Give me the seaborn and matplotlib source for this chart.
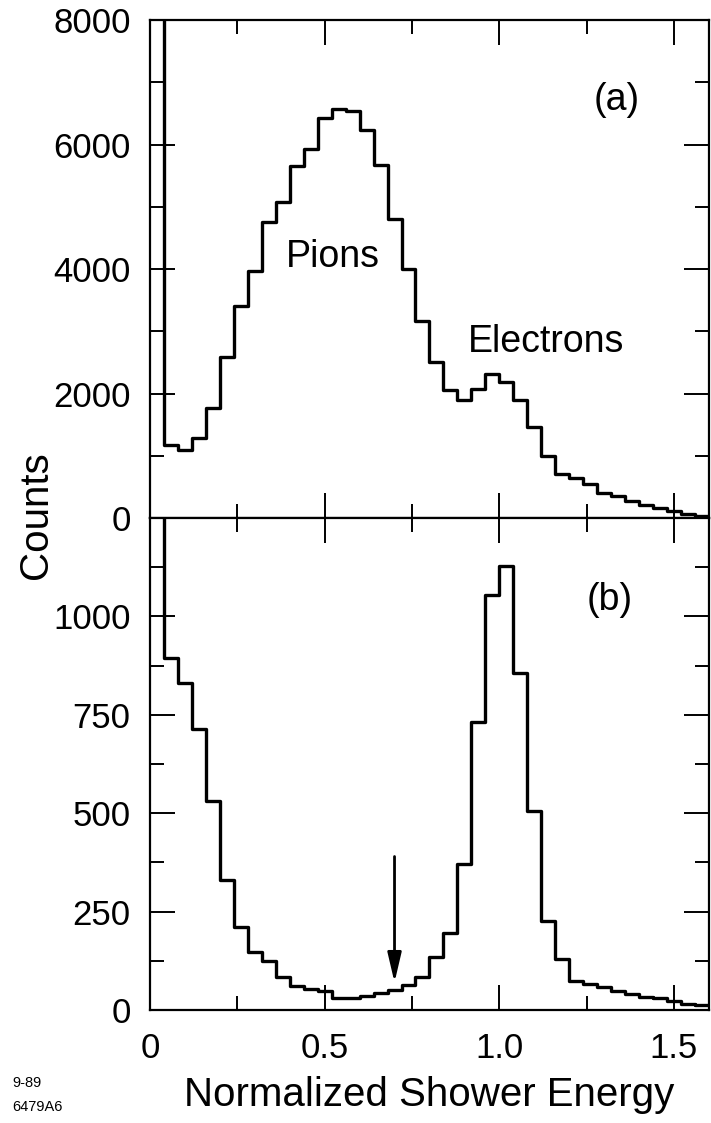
import numpy as np
import pandas as pd
import matplotlib
matplotlib.use("Agg")
import matplotlib.pyplot as plt
import seaborn as sns
from matplotlib.ticker import MultipleLocator, FixedLocator, FuncFormatter

# ---------------- data ----------------
bin_width = 0.04
bin_edges = [round(float(v), 2) for v in np.arange(0.0, 1.6 + 1e-9, bin_width)]

# (a) all particles: counts per bin (first bin is off scale)
counts_a = [9000, 1170, 1090, 1290, 1770, 2590, 3400, 3970, 4750, 5080,
            5650, 5920, 6430, 6570, 6540, 6240, 5670, 4810, 4000, 3160,
            2510, 2050, 1890, 2080, 2320, 2190, 1890, 1460, 1000, 700,
            650, 540, 400, 350, 270, 215, 160, 110, 70, 40]

# (b) selected sample: counts per bin (first bin is off scale)
counts_b = [1400, 895, 830, 715, 530, 330, 210, 148, 125, 85,
            62, 53, 48, 30, 30, 35, 43, 52, 63, 85,
            135, 196, 372, 731, 1054, 1129, 857, 505, 225, 129,
            74, 66, 58, 49, 41, 33, 30, 24, 16, 14]

x_ticks = [0, 0.5, 1.0, 1.5]
y_ticks_a = [0, 2000, 4000, 6000, 8000]
y_ticks_b = [0, 250, 500, 750, 1000]
cut_value = 0.70
arrow_top, arrow_tip = 390, 70

# ---------------- style ----------------
sns.set_style("ticks")
plt.rcParams['font.family'] = ['Liberation Sans', 'DejaVu Sans']
plt.rcParams.update({
    'axes.linewidth': 1.6,
    'text.color': 'black',
    'axes.labelcolor': 'black',
    'xtick.color': 'black',
    'ytick.color': 'black',
    'axes.edgecolor': 'black',
})

fig = plt.figure(figsize=(7.11, 11.23), dpi=100)
ax1 = fig.add_axes([0.211, 0.5387, 0.786, 0.4435])
ax2 = fig.add_axes([0.211, 0.1006, 0.786, 0.4381])

centers = [e + bin_width / 2 for e in bin_edges[:-1]]
df_a = pd.DataFrame({"energy": centers, "counts": counts_a})
df_b = pd.DataFrame({"energy": centers, "counts": counts_b})

for ax, df in ((ax1, df_a), (ax2, df_b)):
    sns.histplot(data=df, x="energy", weights="counts", bins=bin_edges,
                 element="step", fill=False, color="black", linewidth=2.4,
                 ax=ax)
    ax.set_xlim(0, 1.6)
    ax.set_xlabel("")
    ax.set_ylabel("")
    ax.xaxis.set_major_locator(FixedLocator(x_ticks))
    ax.xaxis.set_minor_locator(MultipleLocator(0.25))
    ax.tick_params(which="both", direction="in", top=True, right=True,
                   width=1.4, color="black", labelcolor="black")
    ax.tick_params(which="major", length=18, labelsize=25, pad=14)
    ax.tick_params(which="minor", length=10)
    for s in ax.spines.values():
        s.set_visible(True)
        s.set_linewidth(1.6)
        s.set_color("black")

ax1.set_ylim(0, 8000)
ax1.yaxis.set_major_locator(FixedLocator(y_ticks_a))
ax1.yaxis.set_minor_locator(MultipleLocator(1000))
ax1.tick_params(labelbottom=False)

ax2.set_ylim(0, 1250)
ax2.yaxis.set_major_locator(FixedLocator(y_ticks_b))
ax2.yaxis.set_minor_locator(FixedLocator([125, 375, 625, 875, 1125, 1250]))
ax2.xaxis.set_major_formatter(FuncFormatter(lambda v, p: "0" if v == 0 else f"{v:.1f}"))
ax2.tick_params(axis="x", which="major", pad=16)

ax2.set_xlabel("Normalized Shower Energy", fontsize=29, labelpad=8,
               color="black")

# annotations
ax1.text(1.337, 6715, "(a)", fontsize=27, ha="center", va="center", color="black")
ax1.text(0.524, 4190, "Pions", fontsize=27, ha="center", va="center", color="black")
ax1.text(1.133, 2830, "Electrons", fontsize=27, ha="center", va="center", color="black")
ax2.text(1.317, 1042, "(b)", fontsize=27, ha="center", va="center", color="black")

ax2.annotate("", xy=(cut_value, arrow_tip), xytext=(cut_value, arrow_top),
             arrowprops=dict(arrowstyle="-|>,head_length=0.6,head_width=0.14",
                             color="black", lw=2.0, mutation_scale=30,
                             shrinkA=0, shrinkB=0))

fig.text(36 / 711, 1 - 515 / 1123, "Counts", rotation=90, ha="center",
         va="center", fontsize=29, color="black")
fig.text(12 / 711, 1 - 1083 / 1123, "9-89", fontsize=10.5, ha="left",
         va="center", color="black")
fig.text(12 / 711, 1 - 1107 / 1123, "6479A6", fontsize=10.5, ha="left",
         va="center", color="black")

fig.savefig("out.png", dpi=100)
